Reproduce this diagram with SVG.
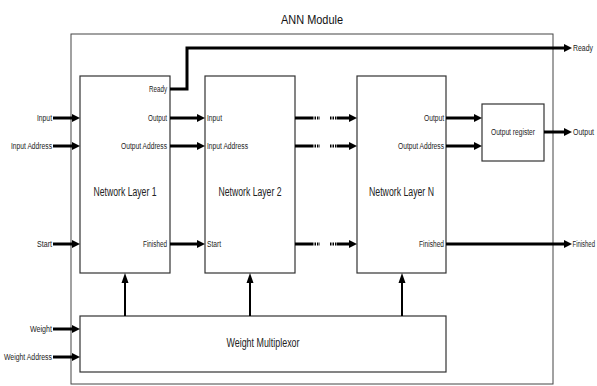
<svg xmlns="http://www.w3.org/2000/svg" width="597" height="386" viewBox="0 0 597 386">
  <style>
    .box { fill: #fff; stroke: #333; stroke-width: 1.2; }
    .outer { fill: #fff; stroke: #444; stroke-width: 1; }
    .sig { stroke: #000; stroke-width: 3; fill: none; }
    .dot { stroke: #000; stroke-width: 3; fill: none; stroke-dasharray: 1.5 1; }
    .vsig { stroke: #000; stroke-width: 2; fill: none; }
    .s { font-family: "Liberation Sans", Arial, sans-serif; font-size: 8.5px; fill: #222; }
    .b { font-family: "Liberation Sans", Arial, sans-serif; font-size: 12px; fill: #222; }
    .t { font-family: "Liberation Sans", Arial, sans-serif; font-size: 13px; fill: #111; }
    .e { text-anchor: end; }
    .m { text-anchor: middle; }
  </style>
  <defs>
    <marker id="ah" markerUnits="userSpaceOnUse" markerWidth="8" markerHeight="8" refX="0" refY="4" orient="auto" overflow="visible">
      <path d="M0,0 L8,4 L0,8 Z" fill="#000"/>
    </marker>
    <marker id="av" markerUnits="userSpaceOnUse" markerWidth="10" markerHeight="7" refX="0" refY="3.5" orient="auto" overflow="visible">
      <path d="M0,0 L10,3.5 L0,7 Z" fill="#000"/>
    </marker>
  </defs>
  <rect width="597" height="386" fill="#fff"/>

  <g id="module">
    <rect class="outer" x="71" y="34" width="482" height="350"/>
    <text class="t m" x="312" y="24" textLength="62" lengthAdjust="spacingAndGlyphs">ANN Module</text>
  </g>

  <g id="layer1">
    <rect class="box" x="80" y="76" width="90" height="197"/>
    <text class="b m" x="125" y="196" textLength="63" lengthAdjust="spacingAndGlyphs">Network Layer 1</text>
    <text class="s e" x="167" y="92" textLength="18" lengthAdjust="spacingAndGlyphs">Ready</text>
    <text class="s e" x="167" y="121" textLength="19" lengthAdjust="spacingAndGlyphs">Output</text>
    <text class="s e" x="167" y="149" textLength="46" lengthAdjust="spacingAndGlyphs">Output Address</text>
    <text class="s e" x="167" y="247" textLength="24" lengthAdjust="spacingAndGlyphs">Finished</text>
  </g>

  <g id="layer2">
    <rect class="box" x="205" y="76" width="90" height="197"/>
    <text class="b m" x="250" y="196" textLength="63" lengthAdjust="spacingAndGlyphs">Network Layer 2</text>
    <text class="s" x="207" y="121" textLength="15" lengthAdjust="spacingAndGlyphs">Input</text>
    <text class="s" x="207" y="149" textLength="41" lengthAdjust="spacingAndGlyphs">Input Address</text>
    <text class="s" x="207" y="247" textLength="14" lengthAdjust="spacingAndGlyphs">Start</text>
  </g>

  <g id="layerN">
    <rect class="box" x="357" y="76" width="89" height="197"/>
    <text class="b m" x="401.5" y="196" textLength="65" lengthAdjust="spacingAndGlyphs">Network Layer N</text>
    <text class="s e" x="444" y="121" textLength="20" lengthAdjust="spacingAndGlyphs">Output</text>
    <text class="s e" x="444" y="149" textLength="46" lengthAdjust="spacingAndGlyphs">Output Address</text>
    <text class="s e" x="444" y="247" textLength="25" lengthAdjust="spacingAndGlyphs">Finished</text>
  </g>

  <g id="outreg">
    <rect class="box" x="482" y="104" width="62" height="57"/>
    <text class="s m" x="513" y="135" textLength="44" lengthAdjust="spacingAndGlyphs">Output register</text>
  </g>

  <g id="mux">
    <rect class="box" x="80" y="316" width="366" height="56"/>
    <text class="b m" x="263" y="347" textLength="73" lengthAdjust="spacingAndGlyphs">Weight Multiplexor</text>
  </g>

  <g id="ext-labels">
    <text class="s e" x="52" y="121" textLength="15" lengthAdjust="spacingAndGlyphs">Input</text>
    <text class="s e" x="52" y="149" textLength="41" lengthAdjust="spacingAndGlyphs">Input Address</text>
    <text class="s e" x="52" y="247" textLength="15" lengthAdjust="spacingAndGlyphs">Start</text>
    <text class="s e" x="52" y="332" textLength="22" lengthAdjust="spacingAndGlyphs">Weight</text>
    <text class="s e" x="52" y="360" textLength="48" lengthAdjust="spacingAndGlyphs">Weight Address</text>
    <text class="s" x="573" y="51" textLength="20" lengthAdjust="spacingAndGlyphs">Ready</text>
    <text class="s" x="573" y="135" textLength="21" lengthAdjust="spacingAndGlyphs">Output</text>
    <text class="s e" x="595" y="247" textLength="22.5" lengthAdjust="spacingAndGlyphs">Finished</text>
  </g>

  <g id="connectors">
    <!-- external inputs -->
    <line class="sig" x1="53" y1="118" x2="72" y2="118" marker-end="url(#ah)"/>
    <line class="sig" x1="53" y1="146" x2="72" y2="146" marker-end="url(#ah)"/>
    <line class="sig" x1="53" y1="244" x2="72" y2="244" marker-end="url(#ah)"/>
    <line class="sig" x1="53" y1="329" x2="72" y2="329" marker-end="url(#ah)"/>
    <line class="sig" x1="53" y1="357" x2="72" y2="357" marker-end="url(#ah)"/>
    <!-- ready -->
    <polyline class="sig" points="170,89 187,89 187,48 564,48" stroke-linejoin="miter" marker-end="url(#ah)"/>
    <!-- layer1 to layer2 -->
    <line class="sig" x1="170" y1="118" x2="197" y2="118" marker-end="url(#ah)"/>
    <line class="sig" x1="170" y1="146" x2="197" y2="146" marker-end="url(#ah)"/>
    <line class="sig" x1="170" y1="244" x2="197" y2="244" marker-end="url(#ah)"/>
    <!-- layer2 to layerN (dotted) -->
    <line class="sig" x1="295" y1="118" x2="312" y2="118"/>
    <line class="dot" x1="312" y1="118" x2="320" y2="118"/>
    <line class="dot" x1="330" y1="118" x2="337" y2="118"/>
    <line class="sig" x1="337" y1="118" x2="349" y2="118" marker-end="url(#ah)"/>
    <line class="sig" x1="295" y1="146" x2="312" y2="146"/>
    <line class="dot" x1="312" y1="146" x2="320" y2="146"/>
    <line class="dot" x1="330" y1="146" x2="337" y2="146"/>
    <line class="sig" x1="337" y1="146" x2="349" y2="146" marker-end="url(#ah)"/>
    <line class="sig" x1="295" y1="244" x2="312" y2="244"/>
    <line class="dot" x1="312" y1="244" x2="320" y2="244"/>
    <line class="dot" x1="330" y1="244" x2="337" y2="244"/>
    <line class="sig" x1="337" y1="244" x2="349" y2="244" marker-end="url(#ah)"/>
    <!-- layerN to output register -->
    <line class="sig" x1="446" y1="118" x2="474" y2="118" marker-end="url(#ah)"/>
    <line class="sig" x1="446" y1="146" x2="474" y2="146" marker-end="url(#ah)"/>
    <!-- outputs -->
    <line class="sig" x1="544" y1="132" x2="564" y2="132" marker-end="url(#ah)"/>
    <line class="sig" x1="446" y1="244" x2="564" y2="244" marker-end="url(#ah)"/>
    <!-- weight multiplexor to layers -->
    <line class="vsig" x1="125" y1="316" x2="125" y2="283" marker-end="url(#av)"/>
    <line class="vsig" x1="250" y1="316" x2="250" y2="283" marker-end="url(#av)"/>
    <line class="vsig" x1="402" y1="316" x2="402" y2="283" marker-end="url(#av)"/>
  </g>
</svg>
